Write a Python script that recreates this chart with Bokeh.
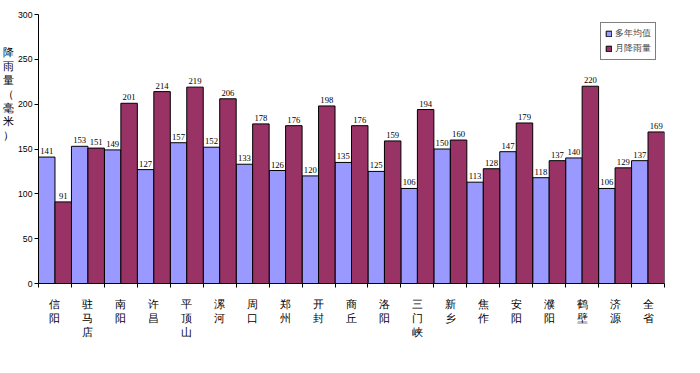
from bokeh.plotting import figure
from bokeh.models import ColumnDataSource, FixedTicker, LabelSet, Legend, LegendItem, Range1d
from bokeh.embed import file_html
from bokeh.resources import INLINE

cities = ["信阳", "驻马店", "南阳", "许昌", "平顶山", "漯河", "周口", "郑州", "开封", "商丘",
          "洛阳", "三门峡", "新乡", "焦作", "安阳", "濮阳", "鹤壁", "济源", "全省"]
avg_years = [141, 153, 149, 127, 157, 152, 133, 126, 120, 135, 125, 106, 150, 113, 147, 118, 140, 106, 137]
month_rain = [91, 151, 201, 214, 219, 206, 178, 176, 198, 176, 159, 194, 160, 128, 179, 137, 220, 129, 169]
series_names = ["多年均值", "月降雨量"]
y_title = "降雨量（毫米）"
y_ticks = [0, 50, 100, 150, 200, 250, 300]

n = len(cities)
centers = [i + 0.5 for i in range(n)]
src_a = ColumnDataSource(dict(x=[i + 0.25 for i in range(n)], top=avg_years,
                              lab=[str(v) for v in avg_years]))
src_b = ColumnDataSource(dict(x=[i + 0.75 for i in range(n)], top=month_rain,
                              lab=[str(v) for v in month_rain]))

p = figure(width=692, height=365, output_backend="svg", toolbar_location=None,
           x_range=Range1d(0, n), y_range=Range1d(0, 300),
           min_border_left=0, min_border_top=14, min_border_right=28, min_border_bottom=82)
p.outline_line_color = None
p.xgrid.visible = False
p.ygrid.visible = False

ra = p.vbar(x="x", top="top", width=0.5, source=src_a, fill_color="#9999FF", line_color="black", line_width=1)
rb = p.vbar(x="x", top="top", width=0.5, source=src_b, fill_color="#993366", line_color="black", line_width=1)

for s in (src_a, src_b):
    p.add_layout(LabelSet(x="x", y="top", text="lab", source=s, text_align="center",
                          text_baseline="bottom", y_offset=3, text_font_size="6.5pt",
                          text_font="DejaVu Sans", text_color="black",
                          background_fill_color="white"))

p.yaxis.ticker = FixedTicker(ticks=y_ticks)
p.yaxis.major_label_text_font_size = "6.5pt"
p.yaxis.major_label_text_color = "black"
p.yaxis.major_label_standoff = 2
p.yaxis.axis_line_color = "black"
p.yaxis.major_tick_line_color = "black"
p.yaxis.major_tick_out = 4
p.yaxis.major_tick_in = 0
p.yaxis.minor_tick_line_color = None
p.yaxis.axis_label = "\n".join(list(y_title) + [" "] * 8)
p.yaxis.axis_label_orientation = "horizontal"
p.yaxis.axis_label_text_font_size = "8pt"
p.yaxis.axis_label_text_font_style = "normal"
p.yaxis.axis_label_text_color = "black"
p.yaxis.axis_label_text_line_height = 1.15
p.yaxis.axis_label_standoff = 1

p.xaxis.ticker = FixedTicker(ticks=centers, minor_ticks=list(range(n + 1)))
p.xaxis.major_label_overrides = {c: "\n".join(list(name)) for c, name in zip(centers, cities)}
p.xaxis.major_tick_out = 0
p.xaxis.major_tick_in = 0
p.xaxis.minor_tick_out = 4
p.xaxis.minor_tick_in = 0
p.xaxis.minor_tick_line_color = "black"
p.xaxis.axis_line_color = "black"
p.xaxis.major_label_text_font_size = "8pt"
p.xaxis.major_label_text_color = "black"
p.xaxis.major_label_standoff = 10

legend = Legend(items=[LegendItem(label=series_names[0], renderers=[ra]),
                       LegendItem(label=series_names[1], renderers=[rb])],
                location="top_right", margin=8, border_line_color="black",
                border_line_width=1, label_text_font_size="7pt", glyph_width=7,
                glyph_height=7, label_height=10, padding=4, spacing=2,
                label_standoff=3, background_fill_color="white")
p.add_layout(legend)

open("out.html", "w").write(file_html(p, INLINE))
